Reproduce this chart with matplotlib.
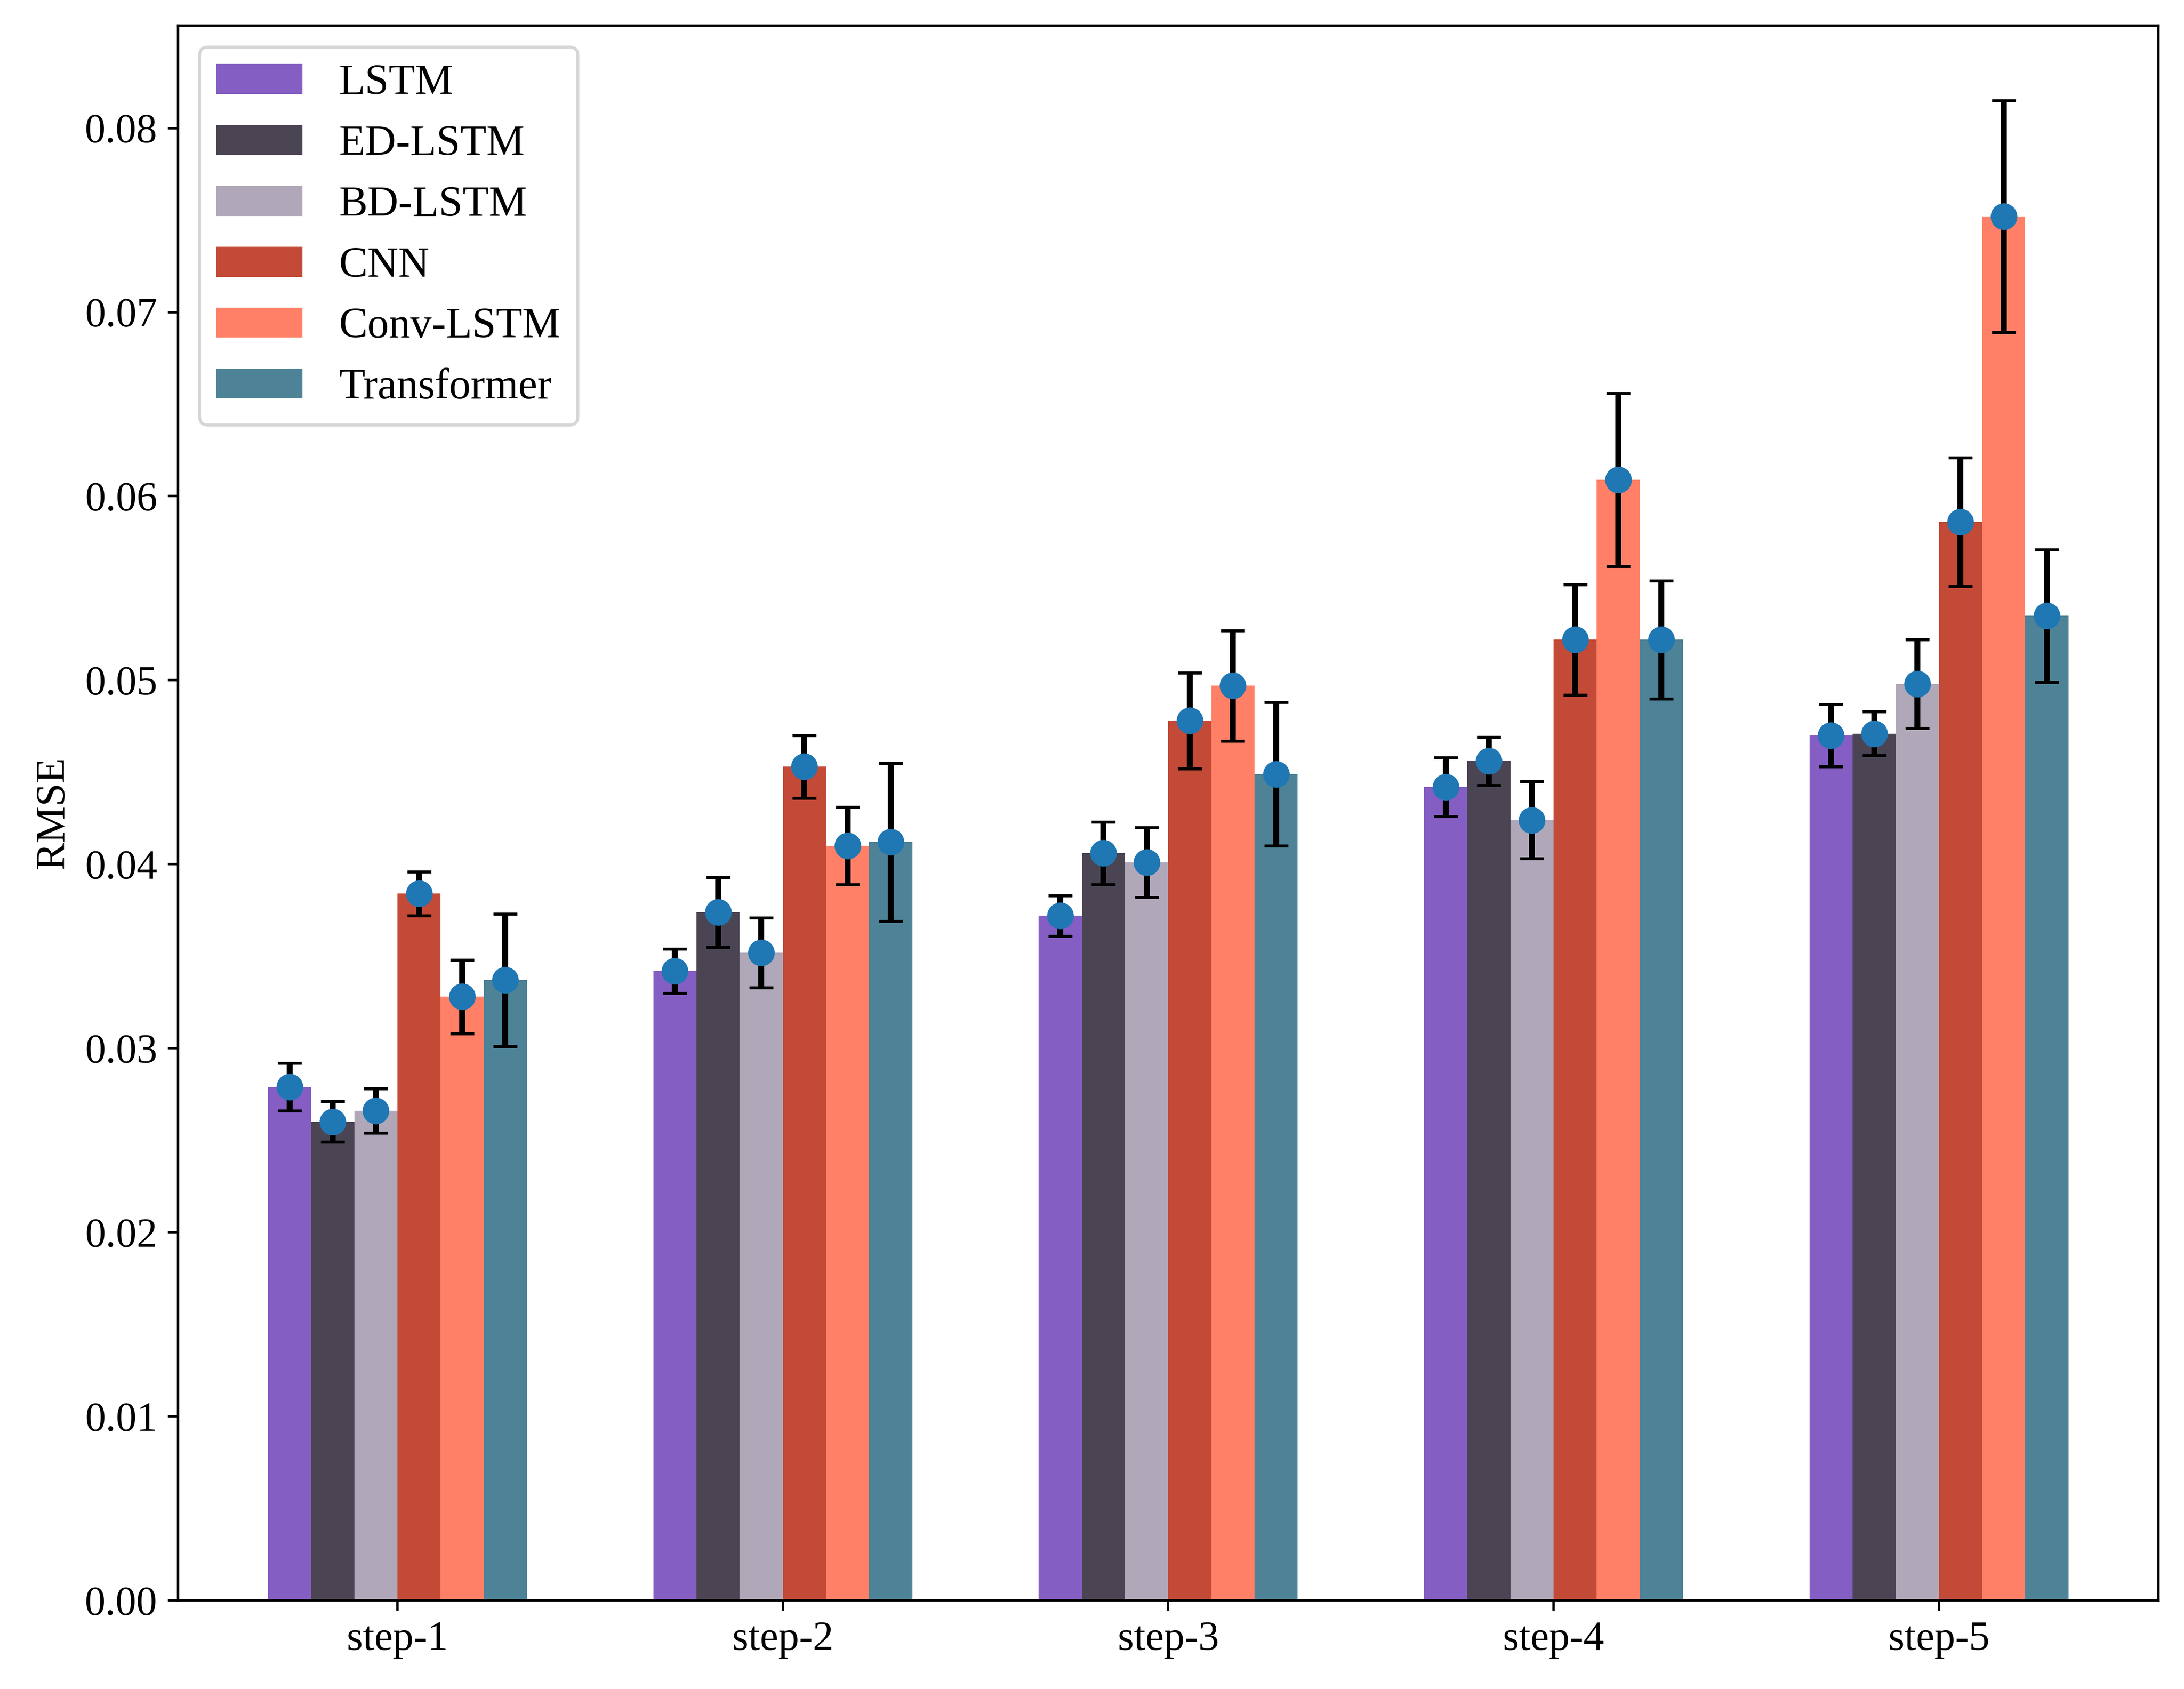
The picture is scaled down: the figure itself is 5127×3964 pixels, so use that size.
import numpy as np
import matplotlib
matplotlib.use("Agg")
import matplotlib.pyplot as plt

plt.rcParams['font.family'] = ['Liberation Serif', 'DejaVu Serif']
plt.rcParams['font.size'] = 14

steps = ['step-1', 'step-2', 'step-3', 'step-4', 'step-5']
models = ['LSTM', 'ED-LSTM', 'BD-LSTM', 'CNN', 'Conv-LSTM', 'Transformer']
colors = ['#845EC2', '#4B4453', '#B0A8B9', '#C34A36', '#FF8066', '#4E8397']

# mean RMSE per model, one entry per step
lstm = [0.0279, 0.0342, 0.0372, 0.0442, 0.0470]
ed_lstm = [0.0260, 0.0374, 0.0406, 0.0456, 0.0471]
bd_lstm = [0.0266, 0.0352, 0.0401, 0.0424, 0.0498]
cnn = [0.0384, 0.0453, 0.0478, 0.0522, 0.0586]
conv_lstm = [0.0328, 0.0410, 0.0497, 0.0609, 0.0752]
transformer = [0.0337, 0.0412, 0.0449, 0.0522, 0.0535]

# standard deviations
lstm_err = [0.0013, 0.0012, 0.0011, 0.0016, 0.0017]
ed_lstm_err = [0.0011, 0.0019, 0.0017, 0.0013, 0.0012]
bd_lstm_err = [0.0012, 0.0019, 0.0019, 0.0021, 0.0024]
cnn_err = [0.0012, 0.0017, 0.0026, 0.0030, 0.0035]
conv_lstm_err = [0.0020, 0.0021, 0.0030, 0.0047, 0.0063]
transformer_err = [0.0036, 0.0043, 0.0039, 0.0032, 0.0036]

means = [lstm, ed_lstm, bd_lstm, cnn, conv_lstm, transformer]
errs = [lstm_err, ed_lstm_err, bd_lstm_err, cnn_err, conv_lstm_err, transformer_err]

fig = plt.figure(figsize=(5127 / 500, 3964 / 500))
ax = fig.add_axes([0.0815, 0.0525, 0.9068, 0.9324])

x = np.arange(len(steps))
width = 0.112

for i, name in enumerate(models):
    pos = x + (i - 2.5) * width
    ax.bar(pos, means[i], width, color=colors[i], label=name)
    ax.errorbar(pos, means[i], yerr=errs[i], fmt='o', color='tab:blue',
                ecolor='black', elinewidth=2, capsize=4, markersize=8)

ax.set_xticks(x)
ax.set_xticklabels(steps)
ax.set_ylabel('RMSE')
ax.legend(loc='upper left', fontsize=14.5, handletextpad=0.85)

fig.savefig('out.png', dpi=500)
